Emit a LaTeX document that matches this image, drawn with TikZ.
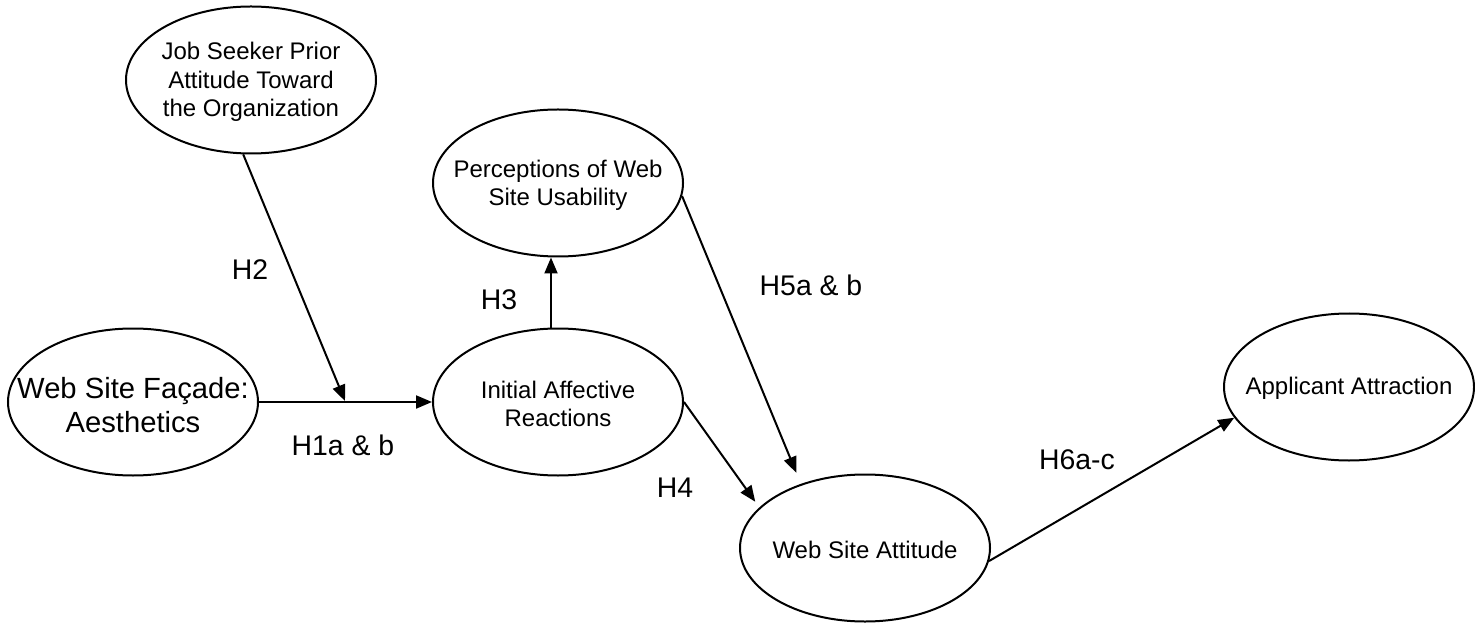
\documentclass[tikz,border=0pt]{standalone}
\usepackage{fontspec}
\setmainfont{Liberation Sans}
\usetikzlibrary{shapes.geometric,arrows.meta}
\tikzset{
  ell/.style={ellipse, draw, line width=1pt, minimum width=125pt, minimum height=73.5pt, inner sep=0pt},
  etxt/.style={align=center, inner sep=0pt, font=\fontsize{12}{14.2}\selectfont},
  bigtxt/.style={align=center, inner sep=0pt, font=\fontsize{14.6}{17}\selectfont},
  lbl/.style={inner sep=0pt, font=\fontsize{14.2}{17}\selectfont},
  arr/.style={line width=1pt, -{Triangle[length=8pt,width=6.5pt]}}
}
\begin{document}
\begin{tikzpicture}[x=0.5pt,y=-0.5pt]
\useasboundingbox (0,0) rectangle (1475,625);
% ellipses
\node[ell] (js) at (251,80) {};
\node[ell] (pw) at (558,183) {};
\node[ell] (fa) at (133,402) {};
\node[ell] (ia) at (558,402) {};
\node[ell] (wa) at (865,548) {};
\node[ell] (aa) at (1349,387) {};
% texts
\node[etxt] (jst) at (251,82) {Job Seeker Prior\\Attitude Toward\\the Organization};
\node[etxt] (pwt) at (558,185) {Perceptions of Web\\Site Usability};
\node[bigtxt] (fat) at (133,405) {Web Site Façade:\\Aesthetics};
\node[etxt] (iat) at (558,404) {Initial Affective\\Reactions};
\node[etxt] (wat) at (865,550) {Web Site Attitude};
\node[etxt] (aat) at (1349,388) {Applicant Attraction};
% connectors
\coordinate (m) at (345,401);
\draw[arr] (fa.east) -- (ia.west);
\draw[arr] (js.264) -- (m);
\draw[arr] ([xshift=-3.5pt]ia.north) -- ([xshift=-3.5pt]pw.south);
\draw[arr, shorten >=3.5pt] (ia.east) -- (wa.159.6);
\draw[arr, shorten >=6pt] (pw.-6) -- (wa.135.5);
\draw[arr] (wa.-6.8) -- (aa.195);
% labels
\node[lbl] (l2) at (250,270) {H2};
\node[lbl] (l1) at (343,445) {H1a \& b};
\node[lbl] (l3) at (499,300) {H3};
\node[lbl] (l4) at (675,488) {H4};
\node[lbl] (l5) at (811,285) {H5a \& b};
\node[lbl] (l6) at (1077,460) {H6a-c};
\end{tikzpicture}
\end{document}
